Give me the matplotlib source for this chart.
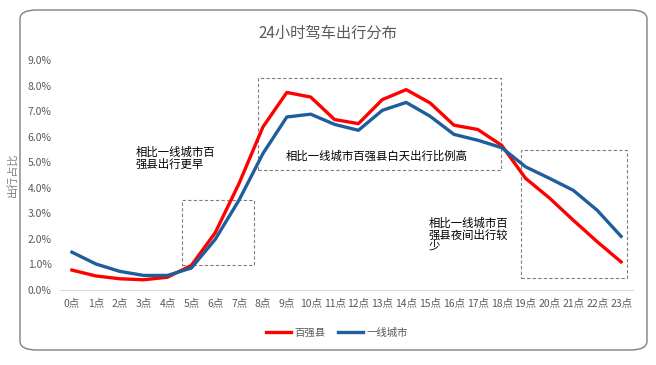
import matplotlib.pyplot as plt
from matplotlib.patches import Rectangle, FancyBboxPatch

plt.rcParams['font.family'] = ['Noto Sans CJK SC', 'DejaVu Sans']

# --- dados ---
horas = [f'{h}点' for h in range(24)]
baiqiang = [0.78, 0.55, 0.44, 0.40, 0.50, 0.96, 2.24, 4.17, 6.38, 7.73, 7.55, 6.67,
            6.51, 7.45, 7.84, 7.32, 6.45, 6.28, 5.66, 4.37, 3.60, 2.73, 1.89, 1.10]
yixian = [1.48, 1.02, 0.73, 0.57, 0.57, 0.86, 1.98, 3.52, 5.34, 6.77, 6.88, 6.48,
          6.25, 7.03, 7.34, 6.80, 6.09, 5.86, 5.57, 4.82, 4.37, 3.90, 3.12, 2.10]
yticks = [0, 1, 2, 3, 4, 5, 6, 7, 8, 9]

fig = plt.figure(figsize=(6.56, 3.65), dpi=100)

# moldura arredondada
fig.patches.append(FancyBboxPatch((20 / 656, 15 / 365), 627 / 656, 340 / 365,
                                  boxstyle='round,pad=0,rounding_size=0.025',
                                  transform=fig.transFigure, fill=False,
                                  edgecolor='#7f7f7f', lw=1.0))

ax = fig.add_axes([60 / 656, 75 / 365, 573 / 656, 230 / 365])
x = list(range(len(horas)))
ax.plot(x, baiqiang, color='#ff0000', lw=2.4, label='百强县', zorder=3)
ax.plot(x, yixian, color='#1f5e9c', lw=2.4, label='一线城市', zorder=3)

ax.set_xlim(-0.5, 23.5)
ax.set_ylim(0, 9)
ax.set_xticks(x)
ax.set_xticklabels(horas, fontsize=7.5, color='#595959')
ax.set_yticks(yticks)
ax.set_yticklabels([f'{v:.1f}%' for v in yticks], fontsize=7.5, color='#595959')
ax.tick_params(length=0, pad=6)
for s in ['top', 'right', 'left']:
    ax.spines[s].set_visible(False)
ax.spines['bottom'].set_color('#d9d9d9')
ax.set_ylabel('出行占比', fontsize=8, color='#7f7f7f', labelpad=7)

# caixas tracejadas
caixas = [(4.61, 0.98, 3.01, 2.54), (7.79, 4.69, 10.18, 3.62), (18.81, 0.47, 4.44, 5.01)]
for cx, cy, w, h in caixas:
    ax.add_patch(Rectangle((cx, cy), w, h, fill=False, edgecolor='#7f7f7f',
                           lw=0.8, ls=(0, (3, 2)), zorder=2))

ax.text(2.68, 5.6, '相比一线城市百\n强县出行更早', fontsize=8.2, va='top', linespacing=1.1)
ax.text(8.95, 5.25, '相比一线城市百强县白天出行比例高', fontsize=8.2, va='center')
ax.text(14.95, 2.85, '相比一线城市百\n强县夜间出行较\n少', fontsize=8.2, va='top', linespacing=1.1)

fig.text(0.5, 1 - 33 / 365, '24小时驾车出行分布', ha='center', va='center',
         fontsize=11, color='#595959')

ax.legend(loc='center', bbox_to_anchor=(337 / 656, 1 - 333 / 365),
          bbox_transform=fig.transFigure, ncol=2, frameon=False, fontsize=7.5,
          handlelength=2.4, columnspacing=1.2, handletextpad=0.3,
          labelcolor='#595959')

plt.savefig('out.png', dpi=100)
